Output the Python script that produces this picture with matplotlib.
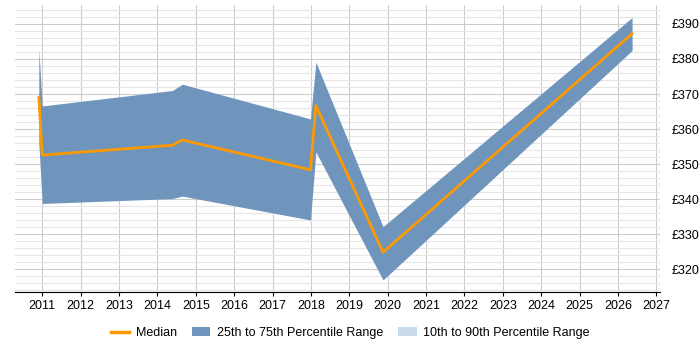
import matplotlib
matplotlib.use("Agg")
import matplotlib.pyplot as plt
from matplotlib.ticker import MultipleLocator, FuncFormatter
from matplotlib.patches import Patch
from matplotlib.lines import Line2D

plt.rcParams['font.family'] = ['Liberation Sans', 'DejaVu Sans']

# data (decimal years)
dates = [2010.91, 2011.0, 2014.39, 2014.65, 2017.99, 2018.13, 2019.88, 2026.37]
median = [369.1, 352.6, 355.4, 356.9, 348.4, 366.7, 324.9, 387.2]
p25 = [356.0, 338.8, 340.2, 340.9, 334.1, 353.5, 317.0, 382.4]
p75 = [382.9, 366.6, 371.0, 372.8, 362.9, 379.1, 332.2, 391.8]
years = list(range(2011, 2028))

fig = plt.figure(figsize=(7, 3.5), dpi=100)
ax = fig.add_axes([0.022, 0.166, 0.921, 0.82])

ax.fill_between(dates, p25, p75, color='#6f95bd', linewidth=0, zorder=2)
ax.plot(dates, median, color='#ff9900', linewidth=2, zorder=3)

ax.set_xlim(2010.3, 2027.1)
ax.set_ylim(313.6, 395.4)
ax.set_xticks(years)
ax.set_xticklabels([str(y) for y in years])
ax.yaxis.set_major_locator(MultipleLocator(10))
ax.yaxis.set_minor_locator(MultipleLocator(2))
ax.yaxis.set_major_formatter(FuncFormatter(lambda v, p: '£%d' % v))
ax.yaxis.tick_right()
ax.tick_params(axis='y', which='both', length=0, labelsize=9, pad=8)
ax.tick_params(axis='x', length=3, color='black', labelsize=9, pad=3)

ax.grid(True, which='major', color='#cccccc', linewidth=0.8, zorder=0)
ax.grid(True, which='minor', axis='y', color='#e6e6e6', linewidth=0.8, zorder=0)
ax.set_axisbelow(True)
for s in ['top', 'right', 'left']:
    ax.spines[s].set_visible(False)
ax.spines['bottom'].set_color('black')

handles = [
    Line2D([0], [0], color='#ff9900', linewidth=2.5),
    Patch(facecolor='#6f95bd'),
    Patch(facecolor='#c9dbed'),
]
labels = ['Median', '25th to 75th Percentile Range', '10th to 90th Percentile Range']
fig.legend(handles, labels, loc='center', bbox_to_anchor=(0.5, 0.048), ncol=3,
           frameon=False, fontsize=9, handlelength=1.5, columnspacing=1.2, handletextpad=0.5)

fig.savefig('out.png', dpi=100)
